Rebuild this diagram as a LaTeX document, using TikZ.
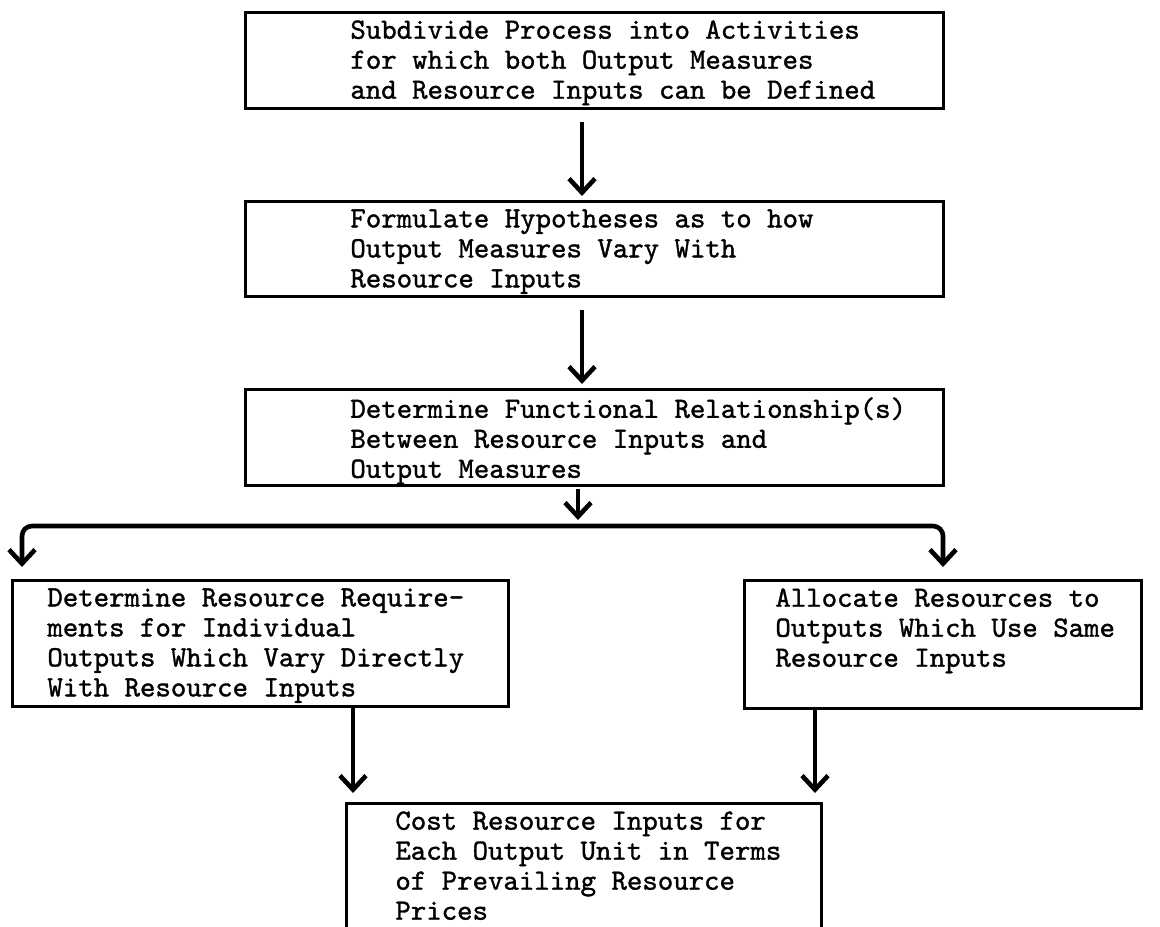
\documentclass[tikz,border=0pt]{standalone}
\usepackage{fontspec}
\setmonofont{lmmono10-regular.otf}[FakeBold=1.2]
\usetikzlibrary{arrows.meta,positioning}
\begin{document}
\begin{tikzpicture}[
  x=0.5pt, y=-0.5pt,
  box/.style={draw, line width=1.3pt, rectangle, anchor=north west, inner sep=0pt},
  txt/.style={anchor=north west, inner sep=0pt, align=left,
    node font=\ttfamily\fontsize{14.7}{15}\selectfont},
  arr/.style={line width=2.3pt, -{Straight Barb[length=7pt,width=13pt,line width=2.3pt]}}
]
    \useasboundingbox (0,0) rectangle (1160,926);
    \clip (0,0) rectangle (1160,926);
    \node[box, minimum width=349pt, minimum height=48pt] (b1) at (244,11) {};
    \node[box, minimum width=349pt, minimum height=47.5pt] (b2) at (244,200) {};
    \node[box, minimum width=349pt, minimum height=48pt] (b3) at (244,388) {};
    \node[box, minimum width=248pt, minimum height=63pt] (b4) at (11,579) {};
    \node[box, minimum width=198.5pt, minimum height=64pt] (b5) at (743,579) {};
    \node[box, minimum width=237.5pt, minimum height=80pt] (b6) at (345,802) {};
    \node[txt, below right=4.5pt and 53pt of b1.north west] (t1)
      {Subdivide Process into Activities\\for which both Output Measures\\and Resource Inputs can be Defined};
    \node[txt, below right=4.5pt and 53pt of b2.north west] (t2)
      {Formulate Hypotheses as to how\\Output Measures Vary With\\Resource Inputs};
    \node[txt, below right=4.5pt and 53pt of b3.north west] (t3)
      {Determine Functional Relationship(s)\\Between Resource Inputs and\\Output Measures};
    \node[txt, below right=4.5pt and 18pt of b4.north west] (t4)
      {Determine Resource Require-\\ments for Individual\\Outputs Which Vary Directly\\With Resource Inputs};
    \node[txt, below right=4.5pt and 16pt of b5.north west] (t5)
      {Allocate Resources to\\Outputs Which Use Same\\Resource Inputs};
    \node[txt, below right=4.5pt and 25pt of b6.north west] (t6)
      {Cost Resource Inputs for\\Each Output Unit in Terms\\of Prevailing Resource\\Prices};
    \coordinate (c) at (582,0);
    \coordinate (j) at (578,526);
    \coordinate (jl) at (22,0);
    \coordinate (jr) at (943,0);
    \coordinate (l6) at (353,0);
    \coordinate (r6) at (815,0);
    \foreach \a/\b in {b1/b2,b2/b3}{
        \draw[arr, shorten <=6pt, shorten >=2pt] (c |- \a.south) -- (c |- \b.north);
    }
    \draw[arr, shorten <=1pt, shorten >=3pt] (j |- b3.south) -- (j);
    \draw[arr, rounded corners=5pt, shorten >=6pt] (j) -| (jl |- b4.north);
    \draw[arr, rounded corners=5pt, shorten >=6pt] (j) -| (jr |- b5.north);
    \draw[arr, shorten >=4.5pt] (l6 |- b4.south) -- (l6 |- b6.north);
    \draw[arr, shorten >=4.5pt] (r6 |- b5.south) -- (r6 |- b6.north);
\end{tikzpicture}
\end{document}
